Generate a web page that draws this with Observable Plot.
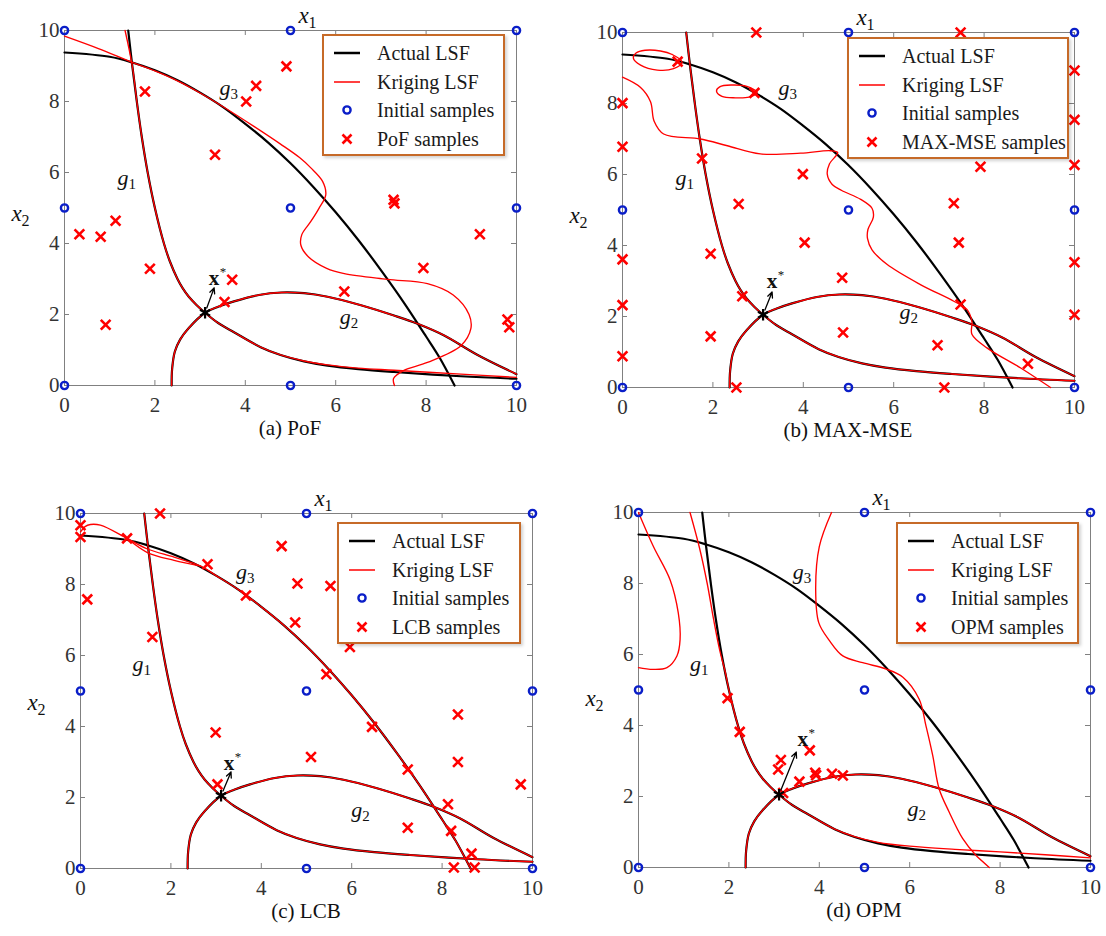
<!DOCTYPE html>
<html><head><meta charset="utf-8">
<script src="https://cdn.jsdelivr.net/npm/d3@7"></script>
<script src="https://cdn.jsdelivr.net/npm/@observablehq/plot@0.6"></script>
<style>
body{margin:0;background:#fff;}
#root{position:relative;width:1106px;height:936px;overflow:hidden;background:#fff;font-family:'Liberation Serif','Tinos','Times New Roman','DejaVu Serif','Noto Serif',serif;}
.panel{position:absolute;width:553px;height:470px;}
.panel svg{position:absolute;left:0;top:0;overflow:visible;font-family:'Liberation Serif','Tinos','Times New Roman','DejaVu Serif','Noto Serif',serif;}
.panel svg text{font-family:'Liberation Serif','Tinos','Times New Roman','DejaVu Serif','Noto Serif',serif;}
.caption{position:absolute;left:64px;width:452px;text-align:center;font-size:21px;line-height:24px;color:#111;}
.legend{position:absolute;background:#fff;border:2px solid #c66a28;box-sizing:border-box;box-shadow:2px 2px 3px rgba(0,0,0,0.18);}
.legend .row{position:absolute;left:0;height:28px;width:100%;}
.legend .row svg{position:absolute;left:6px;top:0;}
.legend .row span{position:absolute;left:53px;top:0;line-height:28px;font-size:20px;color:#1a1a1a;white-space:nowrap;}
</style>
</head><body><div id="root"></div>
<script>
// ---------- data ----------
const xTicks = [0, 2, 4, 6, 8, 10];
const yTicks = [0, 2, 4, 6, 8, 10];
const initialSamples = [[0,0],[0,5],[0,10],[5,0],[5,5],[5,10],[10,0],[10,5],[10,10]];
const mpp = [[3.11, 2.05]];

// actual limit-state curves
const actualG1 = [[1.41,10],[1.5,9],[1.6,8],[1.71,7],[1.84,6],[2.0,5],[2.2,4],[2.33,3.5],[2.5,3],[2.61,2.75],[2.75,2.5],[2.92,2.27],[3.11,2.05],[3.4,1.76],[3.75,1.5],[4.34,1.08],[4.78,0.86],[5.3,0.68],[5.82,0.56],[6.5,0.46],[7.29,0.38],[8.77,0.26],[10,0.19]];
const actualG2 = [[2.37,0],[2.38,0.45],[2.44,0.95],[2.56,1.3],[2.75,1.62],[3.11,2.05],[3.4,2.22],[3.75,2.37],[4.3,2.55],[4.8,2.62],[5.3,2.6],[5.82,2.5],[6.56,2.26],[7.29,1.97],[7.81,1.74],[8.4,1.41],[9.14,0.86],[10,0.32]];
const actualG3 = [[0,9.38],[1,9.26],[1.5,9.1],[2,8.88],[2.5,8.6],[3,8.25],[3.5,7.85],[4,7.37],[4.5,6.85],[5,6.26],[5.5,5.6],[6,4.88],[6.5,4.1],[7,3.25],[7.5,2.35],[8,1.38],[8.3,0.78],[8.63,0]];

// (a) PoF
const pofSamples = [[1.78,8.28],[4.02,8.0],[4.24,8.44],[3.33,6.5],[4.91,8.99],[7.28,5.23],[7.3,5.13],[0.33,4.26],[0.8,4.19],[1.13,4.64],[1.89,3.29],[0.91,1.71],[3.71,2.98],[3.54,2.35],[6.19,2.65],[7.94,3.31],[9.19,4.26],[9.8,1.86],[9.84,1.64]];
const krigA_g1 = [[1.34,10],[1.5,9],[1.6,8],[1.71,7],[1.84,6],[2.0,5],[2.2,4],[2.33,3.5],[2.5,3],[2.61,2.75],[2.75,2.5],[2.92,2.27],[3.11,2.05],[3.4,1.76],[3.75,1.5],[4.34,1.08],[4.78,0.86],[5.3,0.69],[5.82,0.58],[6.5,0.49],[7.29,0.43],[8.77,0.32],[10,0.23]];
const krigA_g2 = actualG2;
const krigA_g3 = [[0,9.84],[0.75,9.49],[1.5,9.1],[2,8.86],[2.5,8.58],[3,8.24],[3.5,7.86],[4.19,7.3],[4.78,6.8],[5.2,6.42],[5.45,6.13],[5.71,5.75],[5.78,5.37],[5.63,4.99],[5.45,4.62],[5.25,4.25],[5.23,3.95],[5.4,3.62],[5.8,3.3],[6.19,3.15],[7.14,2.99],[8.03,2.87],[8.6,2.55],[8.95,2.0],[8.99,1.6],[8.77,1.12],[8.03,0.65],[7.5,0.42],[7.28,0.2],[7.3,0]];

// (b) MAX-MSE
const mseSamples = [[2.96,10],[1.22,9.18],[2.92,8.3],[0,8.01],[0,6.78],[1.76,6.45],[3.99,6.01],[2.57,5.17],[7.48,10],[10,8.93],[10,7.54],[10,6.27],[7.92,6.22],[7.33,5.19],[0,3.61],[0,2.32],[0,0.88],[1.95,3.77],[1.95,1.44],[2.65,2.57],[2.52,0],[4.03,4.08],[7.44,4.08],[4.86,3.09],[4.88,1.55],[6.97,1.19],[7.48,2.34],[8.97,0.67],[7.12,0],[10,3.53],[10,2.05]];
const krigB_g1 = actualG1;
const krigB_g2 = actualG2;
const krigB_loop1 = [[1.32,9.16],[1.1,9.38],[0.84,9.48],[0.5,9.5],[0.3,9.42],[0.24,9.28],[0.4,9.08],[0.77,8.94],[1.13,8.98]];
const krigB_loop2 = [[2.98,8.3],[2.75,8.48],[2.4,8.52],[2.15,8.47],[2.08,8.35],[2.2,8.2],[2.5,8.16],[2.8,8.18]];
const krigB_curve = [[0,8.74],[0.4,8.45],[0.62,8.05],[0.7,7.5],[0.91,7.14],[1.73,7.0],[2.32,6.81],[3.05,6.58],[3.94,6.6],[4.6,6.67],[4.76,6.62],[4.58,6.3],[4.53,6.01],[4.64,5.72],[4.85,5.55],[5.27,5.3],[5.52,5.05],[5.55,4.8],[5.43,4.45],[5.42,4.2],[5.52,3.88],[5.85,3.47],[6.59,2.9],[7.33,2.43],[7.62,2.2],[7.73,1.86],[7.73,1.5],[8.07,1.11],[8.81,0.55],[9.47,0]];

// (c) LCB
const lcbSamples = [[0,9.67],[0,9.34],[1.76,10],[0.15,7.58],[1.03,9.3],[2.81,8.57],[3.66,7.69],[1.59,6.52],[4.45,9.08],[2.99,3.83],[3.03,2.37],[4.8,8.03],[5.53,7.96],[4.75,6.93],[5.96,6.24],[5.44,5.47],[6.45,3.99],[5.1,3.14],[8.35,4.34],[8.35,3.0],[9.74,2.37],[7.24,2.79],[8.13,1.81],[7.24,1.15],[8.2,1.06],[8.65,0.42],[8.26,0.03],[8.72,0.03]];
const krigC_g1 = actualG1;
const krigC_g2 = actualG2;
const krigC_g3 = [[0,9.48],[0.1,9.63],[0.22,9.69],[0.44,9.67],[1.03,9.3],[1.48,9.0],[2.07,8.77],[2.66,8.52],[3,8.25],[3.5,7.85],[4,7.37],[4.5,6.85],[5,6.26],[5.5,5.6],[6,4.88],[6.5,4.1],[7,3.25],[7.5,2.35],[8,1.38],[8.3,0.78],[8.63,0]];
const krigC_branch = [[1.03,9.3],[1.48,8.9],[2.07,8.68],[2.66,8.52]];

// (d) OPM
const opmSamples = [[1.97,4.77],[2.24,3.82],[3.09,2.76],[3.15,3.03],[3.79,3.3],[3.56,2.42],[3.2,2.1],[3.91,2.67],[3.93,2.6],[4.28,2.64],[4.52,2.59]];
const krigD_g1 = [[1.14,10],[1.35,9],[1.52,8],[1.66,7],[1.8,6.1],[1.92,5.5],[2.0,5],[2.2,4],[2.33,3.5],[2.5,3],[2.61,2.75],[2.75,2.5],[2.92,2.27],[3.11,2.05],[3.4,1.76],[3.75,1.5],[4.34,1.08],[4.78,0.87],[5.3,0.71],[6,0.6],[7,0.51],[8,0.44],[9,0.36],[10,0.27]];
const krigD_g2 = actualG2;
const krigD_loop = [[0,10],[0.33,9.04],[0.7,8.1],[0.88,7.17],[0.92,6.42],[0.85,5.96],[0.63,5.63],[0.33,5.58],[0,5.63]];
const krigD_right = [[4.27,10],[4.0,9.04],[3.92,7.82],[3.99,6.89],[4.22,6.4],[4.52,5.96],[4.96,5.77],[5.48,5.59],[5.85,5.36],[6.21,4.74],[6.36,3.99],[6.51,3.15],[6.65,2.22],[6.87,1.57],[7.17,0.82],[7.46,0.35],[7.76,0]];

// annotation label positions per panel: [subscript, x, y(baseline)]
const gLabelsA = [["1",1.17,5.64],["2",6.09,1.74],["3",3.43,8.19]];
const gLabelsB = [["1",1.17,5.7],["2",6.13,1.92],["3",3.45,8.25]];
const gLabelsC = [["1",1.15,5.56],["2",5.99,1.44],["3",3.44,8.15]];
const gLabelsD = [["1",1.14,5.54],["2",5.95,1.46],["3",3.41,8.12]];
const xStarLabel = {a:[3.19,2.83], b:[3.19,2.8], c:[3.17,2.77], d:[3.52,3.43]};
const arrowTip = {a:[3.31,2.75], b:[3.31,2.69], c:[3.33,2.72], d:[3.49,3.25]};
const x2LabelY = {a:4.62, b:4.64, c:4.46, d:4.55};

const panels = [
  {id:"a", left:0, top:-2, caption:"(a) PoF", sampleName:"PoF samples", samples:pofSamples,
   krig:[{p:krigA_g1},{p:krigA_g2},{p:krigA_g3}], g:gLabelsA, legend:{left:322, top:36, width:183}},
  {id:"b", left:558, top:0, caption:"(b) MAX-MSE", sampleName:"MAX-MSE samples", samples:mseSamples,
   krig:[{p:krigB_g1},{p:krigB_g2},{p:krigB_loop1,c:true},{p:krigB_loop2,c:true},{p:krigB_curve}], g:gLabelsB, legend:{left:289, top:37, width:222}},
  {id:"c", left:16, top:481, caption:"(c) LCB", sampleName:"LCB samples", samples:lcbSamples,
   krig:[{p:krigC_g1},{p:krigC_g2},{p:krigC_g3},{p:krigC_branch}], g:gLabelsC, legend:{left:321, top:41, width:184}},
  {id:"d", left:574, top:480, caption:"(d) OPM", sampleName:"OPM samples", samples:opmSamples,
   krig:[{p:krigD_g1},{p:krigD_g2},{p:krigD_loop},{p:krigD_right}], g:gLabelsD, legend:{left:322, top:42, width:183}}
];

// ---------- drawing ----------
const W = 452, H = 355;
const GRAY = "#808080", BLUE = "#0a1ec8", RED = "#ff0000";
const FONT = "'Liberation Serif','Tinos','Times New Roman','DejaVu Serif','Noto Serif',serif";
const root = document.getElementById("root");

function makePlot(p) {
  const star = mpp[0];
  const tip = arrowTip[p.id];
  const xs = xStarLabel[p.id];
  const marks = [
    Plot.frame({stroke: GRAY, strokeWidth: 1}),
    Plot.tickX(xTicks, {x: d => d, stroke: GRAY, insetTop: H - 5}),
    Plot.tickX(xTicks, {x: d => d, stroke: GRAY, insetBottom: H - 5}),
    Plot.tickY(yTicks, {y: d => d, stroke: GRAY, insetRight: W - 5}),
    Plot.tickY(yTicks, {y: d => d, stroke: GRAY, insetLeft: W - 5}),
    Plot.axisX(xTicks, {anchor: "bottom", tickSize: 0, tickPadding: 12, label: null, color: "#333", fontSize: 21}),
    Plot.axisY(yTicks, {anchor: "left", tickSize: 0, tickPadding: 5, label: null, color: "#333", fontSize: 21}),
    ...[actualG1, actualG2, actualG3].map(c => Plot.line(c, {curve: "catmull-rom", stroke: "#000", strokeWidth: 2.2})),
    ...p.krig.map(k => Plot.line(k.p, {curve: k.c ? "catmull-rom-closed" : "catmull-rom", stroke: RED, strokeWidth: 1.35})),
    Plot.dot(initialSamples, {symbol: "circle", r: 3.6, stroke: BLUE, strokeWidth: 2.4, fill: "none"}),
    Plot.dot(p.samples, {symbol: "times", r: 4.5, stroke: RED, strokeWidth: 2.6}),
    Plot.arrow([{x1: star[0], y1: star[1], x2: tip[0], y2: tip[1]}], {x1: "x1", y1: "y1", x2: "x2", y2: "y2", stroke: "#000", strokeWidth: 1.3, headLength: 7, headAngle: 50, insetStart: 5}),
    Plot.dot(mpp, {symbol: "asterisk", r: 5.5, stroke: "#000", strokeWidth: 2.2}),
    // g labels
    Plot.text(p.g, {x: d => d[1], y: d => d[2], text: () => "g", textAnchor: "start", lineAnchor: "bottom", fontSize: 22, fontStyle: "italic", fill: "#111"}),
    Plot.text(p.g, {x: d => d[1], y: d => d[2], text: d => d[0], textAnchor: "start", lineAnchor: "bottom", fontSize: 15, dx: 11, dy: 4, fill: "#111"}),
    // x* label
    Plot.text([xs], {x: d => d[0], y: d => d[1], text: () => "x", textAnchor: "start", lineAnchor: "bottom", fontSize: 21, fontWeight: "bold", fill: "#111"}),
    Plot.text([xs], {x: d => d[0], y: d => d[1], text: () => "*", textAnchor: "start", lineAnchor: "bottom", fontSize: 13, dx: 11, dy: -9, fill: "#111"}),
    // x1 axis label (top)
    Plot.text(["x"], {frameAnchor: "top-left", text: d => d, dx: 234, dy: -8, textAnchor: "start", lineAnchor: "bottom", fontSize: 23, fontStyle: "italic", fill: "#111"}),
    Plot.text(["1"], {frameAnchor: "top-left", text: d => d, dx: 244, dy: -3, textAnchor: "start", lineAnchor: "bottom", fontSize: 16, fill: "#111"}),
    // x2 axis label (left)
    Plot.text([x2LabelY[p.id]], {y: d => d, frameAnchor: "left", text: () => "x", dx: -53, textAnchor: "start", lineAnchor: "bottom", fontSize: 23, fontStyle: "italic", fill: "#111"}),
    Plot.text([x2LabelY[p.id]], {y: d => d, frameAnchor: "left", text: () => "2", dx: -43, dy: 5, textAnchor: "start", lineAnchor: "bottom", fontSize: 16, fill: "#111"})
  ];
  return Plot.plot({
    width: 553, height: 427,
    marginLeft: 64, marginRight: 37, marginTop: 32, marginBottom: 40,
    x: {domain: [0, 10]}, y: {domain: [0, 10]},
    style: {fontFamily: FONT, fontSize: "21px", background: "transparent", overflow: "visible"},
    marks
  });
}

function makeLegend(p) {
  const lg = document.createElement("div");
  lg.className = "legend";
  lg.style.left = p.legend.left + "px";
  lg.style.top = p.legend.top + "px";
  lg.style.width = p.legend.width + "px";
  lg.style.height = "122px";
  const rows = [
    {sym: `<line x1="4" x2="30" y1="14" y2="14" stroke="#000" stroke-width="2.5"/>`, text: "Actual LSF"},
    {sym: `<line x1="4" x2="30" y1="14" y2="14" stroke="${RED}" stroke-width="1.5"/>`, text: "Kriging LSF"},
    {sym: `<circle cx="17" cy="14" r="3.6" fill="none" stroke="${BLUE}" stroke-width="2.4"/>`, text: "Initial samples"},
    {sym: `<path d="M12.5,9.5L21.5,18.5M21.5,9.5L12.5,18.5" stroke="${RED}" stroke-width="2.6" fill="none"/>`, text: p.sampleName}
  ];
  rows.forEach((r, i) => {
    const row = document.createElement("div");
    row.className = "row";
    row.style.top = (17 + 28.5 * i - 14) + "px";
    row.innerHTML = `<svg width="34" height="28">${r.sym}</svg><span>${r.text}</span>`;
    lg.appendChild(row);
  });
  return lg;
}

panels.forEach(p => {
  const wrap = document.createElement("div");
  wrap.className = "panel";
  wrap.style.left = p.left + "px";
  wrap.style.top = p.top + "px";
  wrap.appendChild(makePlot(p));
  const cap = document.createElement("div");
  cap.className = "caption";
  cap.style.top = (32 + H + 31) + "px";
  cap.textContent = p.caption;
  wrap.appendChild(cap);
  wrap.appendChild(makeLegend(p));
  root.appendChild(wrap);
});
</script>
</body></html>
